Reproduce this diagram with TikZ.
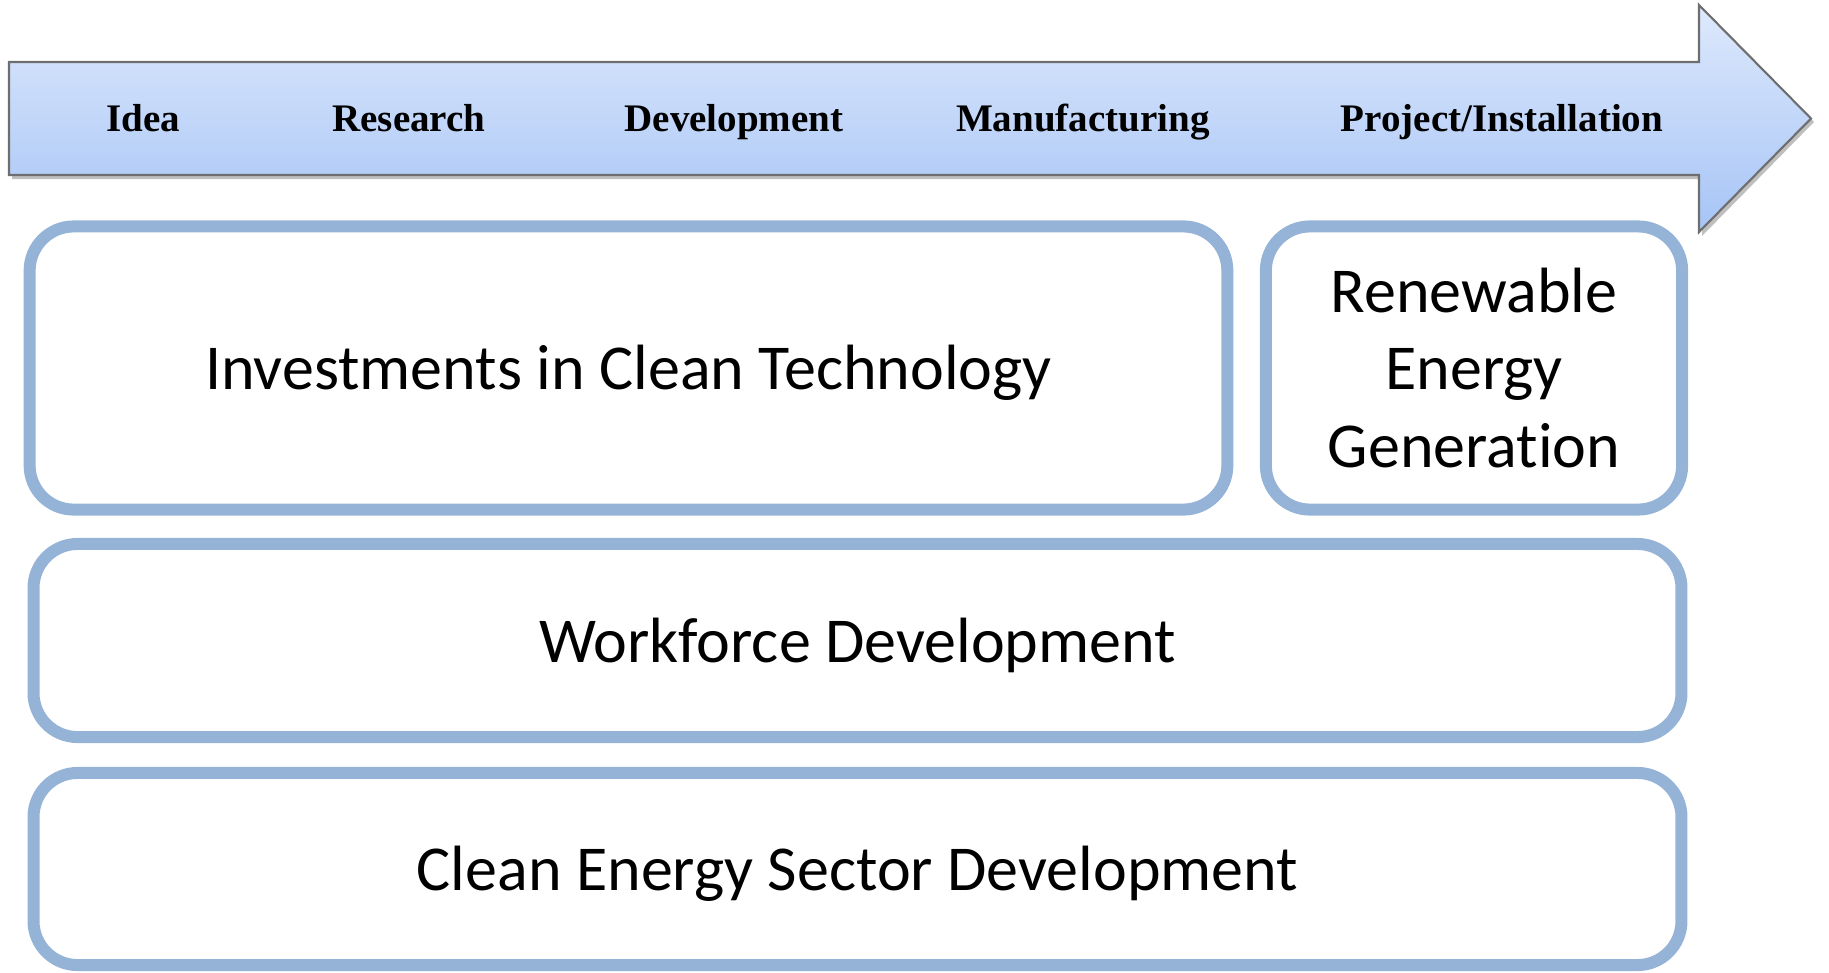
\documentclass[tikz,border=0pt]{standalone}
\usepackage{fontspec}
\setmainfont{Carlito}[Ligatures=NoCommon]
\newfontfamily\stagefont{Liberation Serif}
\definecolor{boxline}{RGB}{149,179,215}
\definecolor{arrowtop}{RGB}{222,233,252}
\definecolor{arrowbottom}{RGB}{166,196,246}
\definecolor{arrowline}{RGB}{110,110,110}
\tikzset{
  stage/.style={font=\stagefont\bfseries\fontsize{11.1}{13}\selectfont, inner sep=0pt, anchor=base},
  areabox/.style={draw=boxline, line width=0.12cm, rounded corners=0.44cm, fill=white,
    align=center, inner sep=0pt, font=\fontsize{18.2}{21.9}\selectfont},
  oneline/.style={text height=12.5pt, text depth=0pt}
}
\begin{document}
\begin{tikzpicture}[x=0.01cm, y=-0.01cm]
  \useasboundingbox (0,0) rectangle (1829,972);

  % Draw arrow shadow
  \fill[black, opacity=0.25] (12,66) -- (1702,66) -- (1702,9) -- (1814,122)
    -- (1702,236) -- (1702,179) -- (12,179) -- cycle;
  % Draw process arrow
  \draw[arrowline, line width=0.6pt, top color=arrowtop, bottom color=arrowbottom]
    (9,62) -- (1699,62) -- (1699,5) -- (1811,118.5) -- (1699,232) -- (1699,175)
    -- (9,175) -- cycle;

  % Loop over stages
  \foreach \x/\lbl [count=\i] in {143/Idea, 409/Research, 734/Development,
      1083/Manufacturing, 1502/{Project/Installation}}
    \node[stage] (stage\i) at (\x,131) {\lbl};

  % Draw the areas
  \node[areabox, oneline, minimum width=11.97cm, minimum height=2.83cm] (invest) at (628.5,368)
    {Investments in Clean Technology};
  \node[areabox, minimum width=4.16cm, minimum height=2.83cm] (renew) at (1474,368)
    {Renewable\\Energy\\Generation};
  \node[areabox, oneline, minimum width=16.47cm, minimum height=1.93cm] (work) at (857.5,640.5)
    {Workforce Development};
  \node[areabox, oneline, minimum width=16.47cm, minimum height=1.92cm] (sector) at (857.5,869)
    {Clean Energy Sector Development};
\end{tikzpicture}
\end{document}
